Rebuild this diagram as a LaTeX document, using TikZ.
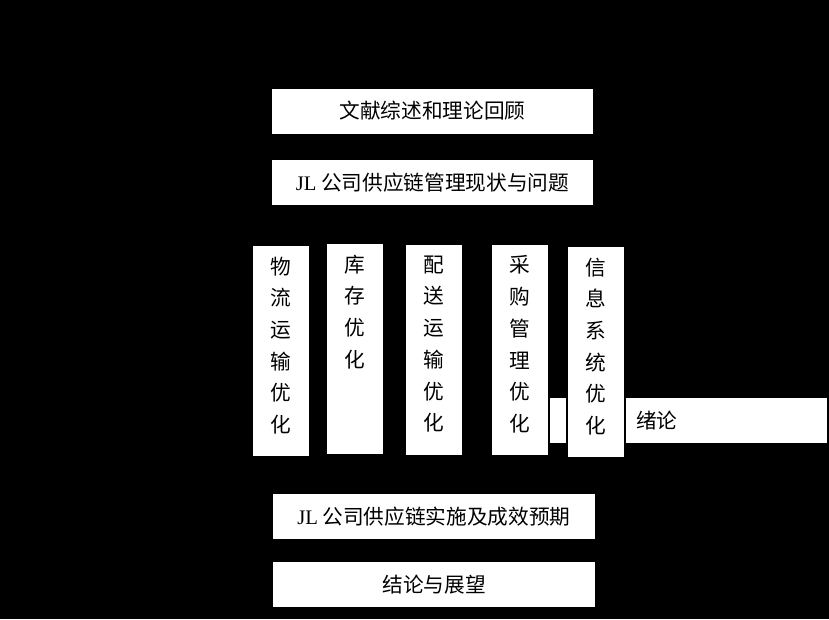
\documentclass[tikz,border=0pt]{standalone}
\usepackage{fontspec}
\setmainfont{Liberation Serif}
\newfontfamily\cjk{Noto Sans CJK SC}
\tikzstyle{box}=[fill=white, inner sep=0pt, font=\cjk\fontsize{15.5pt}{23.25pt}\selectfont]
\tikzstyle{wide}=[box, minimum width=241pt, minimum height=33.75pt]
\tikzstyle{tall}=[box, minimum width=42pt, minimum height=157.5pt]
\tikzstyle{column}=[anchor=north, align=center, inner sep=0pt, yshift=-8pt, font=\cjk\fontsize{15.5pt}{23.8pt}\selectfont]

\begin{document}
\begin{tikzpicture}[x=0.75pt, y=-0.75pt]
\fill[black] (0,0) rectangle (829,619);
\draw (432.5,111) node[wide] (review) {文献综述和理论回顾};
\draw (432.5,182.5) node[wide] (status) {\textrm{JL} 公司供应链管理现状与问题};

\draw (281,351) node[tall] (logistics) {};
\draw (logistics.north) node[column] (logisticsText) {物\\流\\运\\输\\优\\化};
\draw (355,349) node[tall] (stock) {};
\draw (stock.north) node[column] (stockText) {库\\存\\优\\化};
\draw (434,350) node[tall] (delivery) {};
\draw (delivery.north) node[column] (deliveryText) {配\\送\\运\\输\\优\\化};
\draw (520,350) node[tall] (purchase) {};
\draw (purchase.north) node[column] (purchaseText) {采\\购\\管\\理\\优\\化};
\draw (558,420.5) node[box, minimum width=12pt, minimum height=33.75pt] (gap) {};
\draw (596,352) node[tall] (info) {};
\draw (info.north) node[column] (infoText) {信\\息\\系\\统\\优\\化};
\draw (726.5,420.5) node[box, minimum height=33.75pt, text width=135.75pt, inner xsep=7.5pt, align=left] (intro) {绪论};

\draw (434,516.5) node[wide] (plan) {\textrm{JL} 公司供应链实施及成效预期};
\draw (434,584.5) node[wide] (outlook) {结论与展望};
\end{tikzpicture}
\end{document}
